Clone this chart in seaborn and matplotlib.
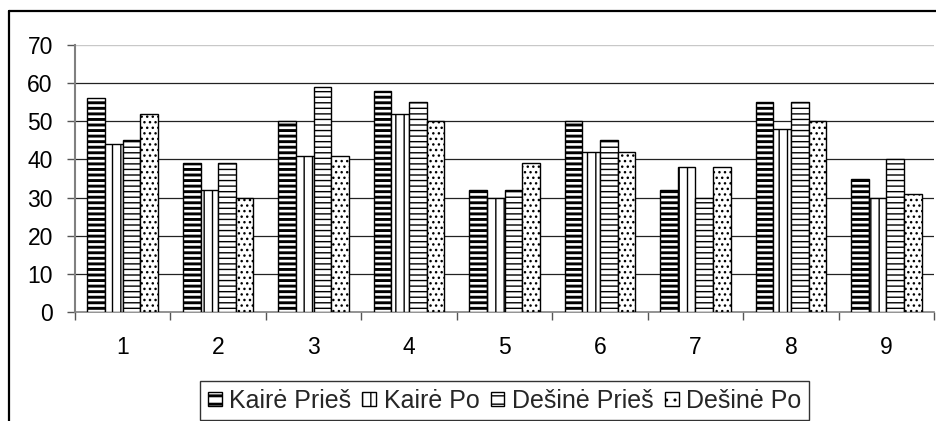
import matplotlib
matplotlib.use("Agg")
import matplotlib.pyplot as plt
from matplotlib.lines import Line2D
from matplotlib.patches import Patch
import numpy as np
import pandas as pd
import seaborn as sns

# Measurements per subject (1..9), four series
categories = ["1", "2", "3", "4", "5", "6", "7", "8", "9"]
series_names = ["Kairė Prieš", "Kairė Po", "Dešinė Prieš", "Dešinė Po"]
kaire_pries = [56, 39, 50, 58, 32, 50, 32, 55, 35]
kaire_po = [44, 32, 41, 52, 30, 42, 38, 48, 30]
desine_pries = [45, 39, 59, 55, 32, 45, 30, 55, 40]
desine_po = [52, 30, 41, 50, 39, 42, 38, 50, 31]
y_ticks = [0, 10, 20, 30, 40, 50, 60, 70]

series_values = [kaire_pries, kaire_po, desine_pries, desine_po]
df = pd.DataFrame({
    "kategorija": np.repeat([categories], len(series_names), axis=0).ravel(),
    "serija": np.repeat(series_names, len(categories)),
    "reiksme": np.concatenate(series_values),
})

sns.set_theme(style="white")
plt.rcParams["font.family"] = ["Liberation Sans", "DejaVu Sans"]
plt.rcParams["hatch.linewidth"] = 1.0

fig = plt.figure(figsize=(9.36, 4.21), dpi=100)
ax = fig.add_axes([0.0801, 0.2589, 0.9179, 0.6342])

sns.barplot(data=df, x="kategorija", y="reiksme", hue="serija",
            order=categories, hue_order=series_names,
            width=0.74, gap=0, palette=["white"] * 4,
            saturation=1, edgecolor="black", linewidth=1.0,
            legend=False, ax=ax, zorder=3)

hatches = ["---", "||", "---", "..."]
hatch_lw = [2.1, 1.0, 1.0, 1.0]
for cont, h, hlw in zip(ax.containers, hatches, hatch_lw):
    for p in cont:
        p.set_facecolor("white")
        p.set_edgecolor("black")
        p.set_hatch(h)
        try:
            p.set_hatch_linewidth(hlw)
        except AttributeError:
            pass

ax.set_ylim(0, 70)
ax.set_xlim(-0.5, len(categories) - 0.5)
ax.set_yticks(y_ticks)
ax.set_yticklabels([str(t) for t in y_ticks])
ax.set_xlabel("")
ax.set_ylabel("")

# gridlines
for t in y_ticks[1:-1]:
    ax.axhline(t, color="#222222", lw=0.9, zorder=1)
ax.axhline(70, color="#c8c8c8", lw=1.0, zorder=1)

# category boundaries carry the tick marks, labels sit at centers
ax.set_xticks(np.arange(-0.5, len(categories), 1.0))
ax.set_xticklabels([])
ax.set_xticks(np.arange(len(categories)), minor=True)
ax.set_xticklabels(categories, minor=True)
ax.tick_params(axis="x", which="major", direction="out", length=6,
               width=1.0, color="#555555", bottom=True)
ax.tick_params(axis="x", which="minor", length=0, pad=17, labelsize=16.5,
               labelcolor="black")
ax.tick_params(axis="y", direction="out", length=6, width=1.0,
               color="#555555", left=True, pad=10, labelsize=16.5,
               labelcolor="black")

for side in ["top", "right"]:
    ax.spines[side].set_visible(False)
ax.spines["left"].set_color("#808080")
ax.spines["left"].set_linewidth(1.5)
ax.spines["bottom"].set_color("#808080")
ax.spines["bottom"].set_linewidth(1.2)

# legend
handles = [Patch(facecolor="white", edgecolor="black", hatch=h[:2], label=n)
           for n, h in zip(series_names, hatches)]
leg = fig.legend(handles=handles, loc="upper center",
                 bbox_to_anchor=(0.539, 0.095), ncol=4, frameon=True,
                 fontsize=18, handlelength=0.55, handleheight=0.5,
                 handletextpad=0.3, columnspacing=0.45, borderpad=0.3,
                 fancybox=False, borderaxespad=0)
for lh, hlw in zip(leg.legend_handles, hatch_lw):
    try:
        lh.set_hatch_linewidth(hlw)
    except AttributeError:
        pass
leg.get_frame().set_edgecolor("black")
leg.get_frame().set_linewidth(1.0)

# outer chart border (left and top edges)
fig.add_artist(Line2D([8.5 / 936, 8.5 / 936], [0, 1 - 11 / 421],
                      transform=fig.transFigure, color="black", lw=1.6))
fig.add_artist(Line2D([8.5 / 936, 1.0], [1 - 11 / 421, 1 - 11 / 421],
                      transform=fig.transFigure, color="black", lw=1.6))

fig.savefig("out.png", dpi=100)
